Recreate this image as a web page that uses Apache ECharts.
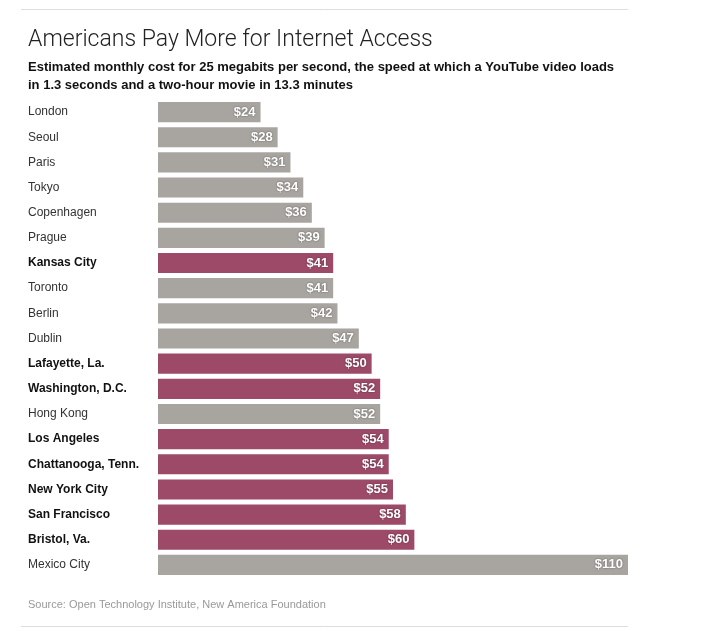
<!DOCTYPE html>
<html>
<head>
<meta charset="utf-8">
<script src="https://cdn.jsdelivr.net/npm/echarts@6/dist/echarts.min.js"></script>
<style>
  html, body { margin: 0; padding: 0; background: #fff; }
  #chart { width: 707px; height: 631px; }
</style>
</head>
<body>
<div id="chart"></div>
<script>
// data, top to bottom
var cities = ['London', 'Seoul', 'Paris', 'Tokyo', 'Copenhagen', 'Prague', 'Kansas City',
  'Toronto', 'Berlin', 'Dublin', 'Lafayette, La.', 'Washington, D.C.', 'Hong Kong',
  'Los Angeles', 'Chattanooga, Tenn.', 'New York City', 'San Francisco', 'Bristol, Va.', 'Mexico City'];
var costs = [24, 28, 31, 34, 36, 39, 41, 41, 42, 47, 50, 52, 52, 54, 54, 55, 58, 60, 110];
var usCities = ['Kansas City', 'Lafayette, La.', 'Washington, D.C.', 'Los Angeles',
  'Chattanooga, Tenn.', 'New York City', 'San Francisco', 'Bristol, Va.'];

var FONT = '"Liberation Sans", Arial, sans-serif';
var TITLE_FONT = 'Roboto, "Liberation Sans", sans-serif';
var GRAY = '#a8a4a0';
var PURPLE = '#9d4a69';

var chart = echarts.init(document.getElementById('chart'));

var option = {
  animation: false,
  textStyle: { fontFamily: FONT },
  title: [
    {
      text: 'Americans Pay More for Internet Access',
      left: 23, top: 24,
      textStyle: { fontFamily: TITLE_FONT, fontSize: 23, fontWeight: 300, color: '#222' }
    },
    {
      text: 'Estimated monthly cost for 25 megabits per second, the speed at which a YouTube video loads\nin 1.3 seconds and a two-hour movie in 13.3 minutes',
      left: 23, top: 53,
      textStyle: { fontFamily: FONT, fontSize: 13, fontWeight: 'bold', color: '#111', lineHeight: 18 }
    },
    {
      text: 'Source: Open Technology Institute, New America Foundation',
      left: 23, top: 594,
      textStyle: { fontFamily: FONT, fontSize: 11, fontWeight: 'normal', color: '#999' }
    }
  ],
  graphic: [
    { type: 'line', shape: { x1: 21, y1: 9.5, x2: 628, y2: 9.5 }, style: { stroke: '#ddd', lineWidth: 1 } },
    { type: 'line', shape: { x1: 21, y1: 626.5, x2: 628, y2: 626.5 }, style: { stroke: '#ddd', lineWidth: 1 } }
  ],
  grid: { left: 158, right: 79, top: 99.5, bottom: 53.5, containLabel: false },
  xAxis: {
    type: 'value', min: 0, max: 110,
    show: false
  },
  yAxis: {
    type: 'category',
    inverse: true,
    data: cities,
    axisLine: { show: false },
    axisTick: { show: false },
    axisLabel: {
      align: 'left',
      margin: 130,
      formatter: function (v) {
        return usCities.indexOf(v) >= 0 ? '{us|' + v + '}' : '{intl|' + v + '}';
      },
      rich: {
        us: { fontFamily: FONT, fontSize: 12, fontWeight: 'bold', color: '#111' },
        intl: { fontFamily: FONT, fontSize: 12, fontWeight: 'normal', color: '#333' }
      }
    }
  },
  series: [{
    type: 'bar',
    barCategoryGap: '20%',
    data: costs.map(function (v, i) {
      return {
        value: v,
        itemStyle: { color: usCities.indexOf(cities[i]) >= 0 ? PURPLE : GRAY }
      };
    }),
    label: {
      show: true,
      position: 'insideRight',
      distance: 5,
      formatter: function (p) { return '$' + p.value; },
      fontFamily: FONT,
      fontSize: 13,
      fontWeight: 'bold',
      color: '#fff',
      textShadowColor: 'rgba(0,0,0,0.45)',
      textShadowBlur: 2
    }
  }]
};

chart.setOption(option);
</script>
</body>
</html>
